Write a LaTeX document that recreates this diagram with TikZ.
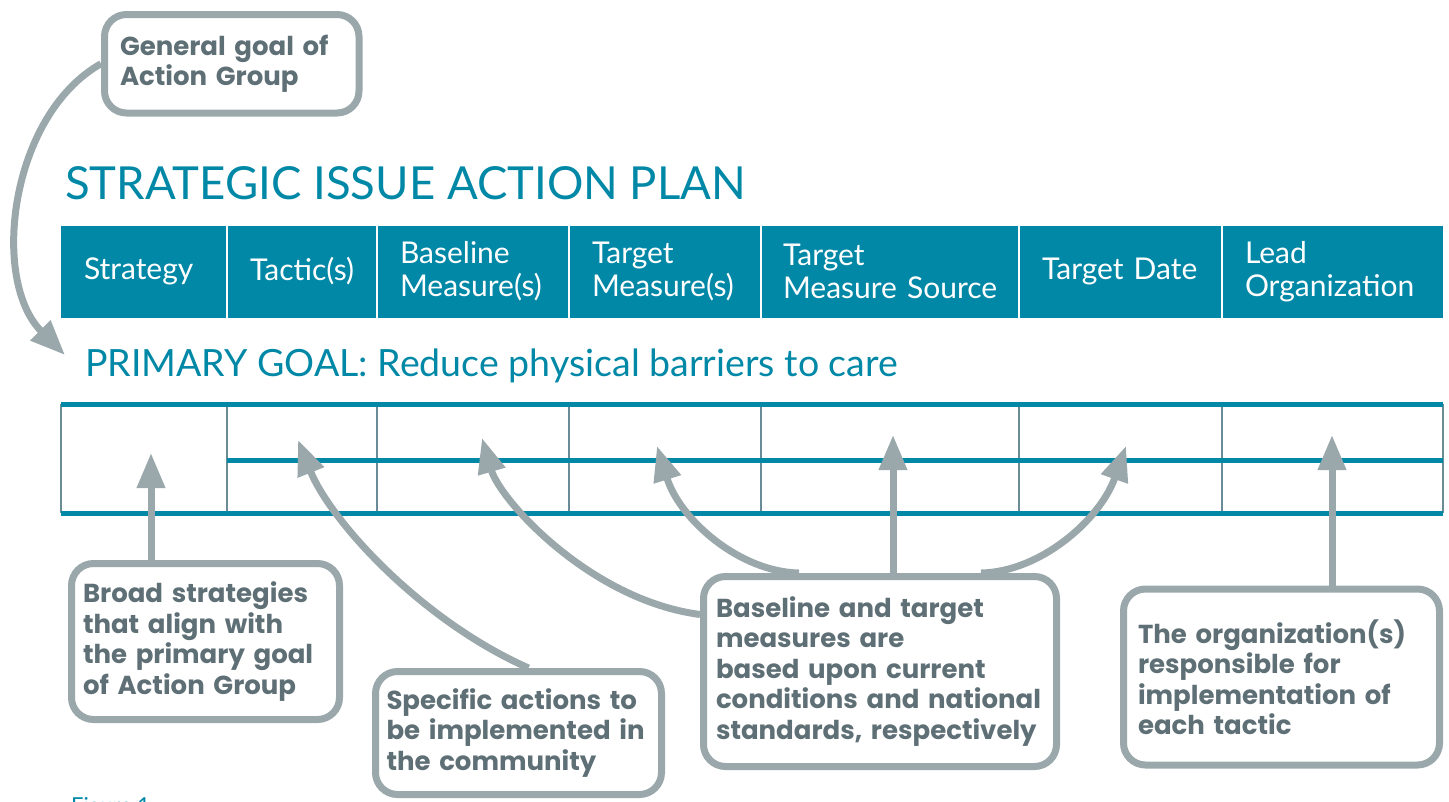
\documentclass[tikz,border=0pt]{standalone}
\usepackage{fontspec}
\usepackage{tikz}
\usetikzlibrary{positioning,arrows.meta}
\newfontfamily\headfont{Lato}
\newfontfamily\notefont{Poppins}
\definecolor{planteal}{HTML}{0088A6}
\definecolor{pointgray}{HTML}{9AA8AC}
\definecolor{notetext}{HTML}{5E6F76}
\definecolor{cellrule}{HTML}{6A8C96}

\begin{document}
\begin{tikzpicture}[x=1pt, y=-1pt,
    hcell/.style={fill=planteal, text=white, font={\headfont\fontsize{30}{33}\selectfont}, minimum height=92pt, inner xsep=23pt, inner ysep=0pt, outer sep=0pt, align=left},
    callout/.style={draw=pointgray, line width=7pt, rounded corners=22pt, fill=white, text=notetext, font={\notefont\bfseries\fontsize{26}{30.5}\selectfont}, align=left, inner ysep=0pt},
    pointer/.style={draw=pointgray, line width=7pt, -{Triangle[length=35pt, width=27pt]}},
    tealrule/.style={draw=planteal, line width=5pt},
    cellline/.style={draw=cellrule, line width=1.5pt},
    heading/.style={anchor=base west, inner sep=0pt, text=planteal}]
    \useasboundingbox (0,0) rectangle (1449,801);

    \node[callout, minimum width=254.5pt, minimum height=98.5pt, text width=223.5pt, inner xsep=15.5pt] (goalbox) at (231.75,63.75) {General goal of\\Action Group};
    \node[heading, font={\headfont\fontsize{45.5}{54}\selectfont}] (title) at (65,199) {STRATEGIC ISSUE ACTION PLAN};

    \node[hcell, anchor=west, text width=120pt] (hstrat) at (61,271.5) {Strategy};
    \node[hcell, text width=104pt, right=0pt of hstrat] (htactic) {Tactic(s)};
    \node[hcell, text width=146pt, right=0pt of htactic] (hbase) {Baseline\\Measure(s)};
    \node[hcell, text width=146pt, right=0pt of hbase] (htarget) {Target\\Measure(s)};
    \node[hcell, text width=214pt, inner xsep=22pt, right=0pt of htarget] (hsource) {Target\\\mbox{Measure Source}};
    \node[hcell, text width=157pt, right=0pt of hsource] (hdate) {Target Date};
    \node[hcell, text width=175pt, right=0pt of hdate] (hlead) {Lead\\Organization};
    \draw[white, line width=2pt] (htactic.north west) -- (htactic.south west)
      (hbase.north west) -- (hbase.south west)
      (htarget.north west) -- (htarget.south west)
      (hsource.north west) -- (hsource.south west)
      (hdate.north west) -- (hdate.south west)
      (hlead.north west) -- (hlead.south west);

    \node[heading, font={\headfont\fontsize{37.5}{44}\selectfont}] (primary) at (85,376) {PRIMARY GOAL: Reduce physical barriers to care};

    \draw[cellline] (61,404) -- (61,513) (227,404) -- (227,513) (377,404) -- (377,513)
      (569,404) -- (569,513) (761,404) -- (761,513) (1019,404) -- (1019,513)
      (1222,404) -- (1222,513) (1443,404) -- (1443,513);
    \draw[tealrule] (61,404) -- (1443,404);
    \draw[tealrule] (227,460.5) -- (1443,460.5);
    \draw[tealrule] (61,513) -- (1443,513);

    \node[callout, minimum width=268pt, minimum height=156pt, text width=245pt, inner xsep=11.5pt] (stratbox) at (205.5,641.5) {Broad strategies\\that align with\\the primary goal\\of Action Group};
    \node[callout, minimum width=286pt, minimum height=123pt, text width=264pt, inner xsep=11pt] (tacticbox) at (518.5,733) {Specific actions to\\be implemented in\\the community};
    \node[callout, minimum width=353pt, minimum height=190pt, text width=328pt, inner xsep=12.5pt] (measurebox) at (880,671.5) {Baseline and target\\measures are\\based upon current\\conditions and national\\standards, respectively};
    \node[callout, minimum width=316pt, minimum height=176pt, text width=287pt, inner xsep=14.5pt] (orgbox) at (1281.5,677) {The organization(s)\\responsible for\\implementation of\\each tactic};
    \node[anchor=north west, inner sep=0pt, text=planteal, font={\headfont\fontsize{22}{26}\selectfont}] (figlabel) at (71,797.5) {Figure 1};

    \coordinate (goaltip) at (65,355);
    \coordinate (strattip) at (151,453);
    \coordinate (tactictip) at (298,440);
    \coordinate (basetip) at (482,438);
    \coordinate (targettip) at (657,446);
    \coordinate (sourcetip) at (893,435);
    \coordinate (datetip) at (1126,446);
    \coordinate (leadtip) at (1332,435);

    \draw[pointer] (goalbox.west) .. controls (10,115) and (-10,280) .. (goaltip);
    \draw[pointer] (stratbox.north -| strattip) -- (strattip);
    \draw[pointer] ([xshift=10pt]tacticbox.north) .. controls (420,620) and (330,520) .. (tactictip);
    \draw[pointer] ([yshift=57pt]measurebox.west) .. controls (590,600) and (500,500) .. (basetip);
    \draw[pointer] ([xshift=-81pt]measurebox.north) .. controls (740,572) and (680,520) .. (targettip);
    \draw[pointer] (measurebox.north -| sourcetip) -- (sourcetip);
    \draw[pointer] ([xshift=101pt]measurebox.north) .. controls (1040,572) and (1100,520) .. (datetip);
    \draw[pointer] (orgbox.north -| leadtip) -- (leadtip);
  \end{tikzpicture}
\end{document}
